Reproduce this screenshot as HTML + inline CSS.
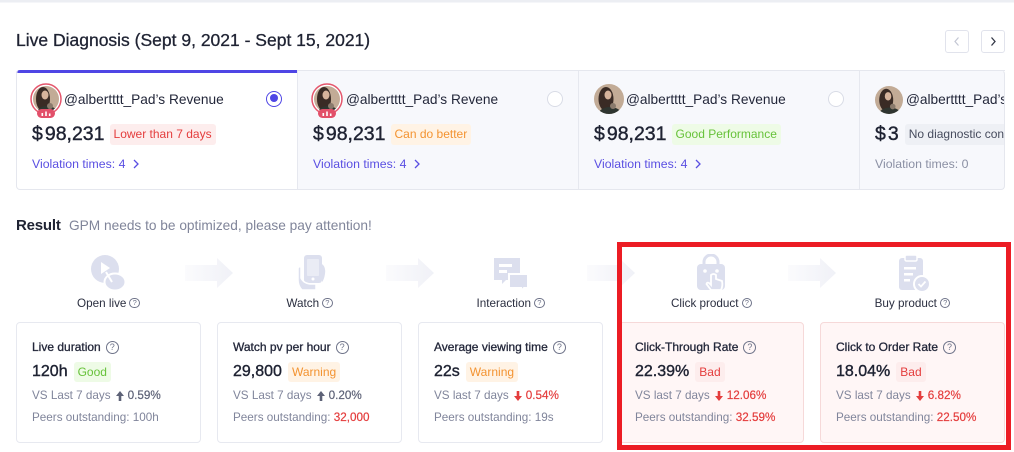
<!DOCTYPE html>
<html><head><meta charset="utf-8">
<style>
*{margin:0;padding:0;box-sizing:border-box}
html,body{width:1014px;height:452px;overflow:hidden;background:#fff}
body{position:relative;font-family:"Liberation Sans",Arial,sans-serif;color:#22263a}
.a{position:absolute;white-space:nowrap}
.med{-webkit-text-stroke:0.3px currentColor}
.nav{width:24px;height:23px;border:1px solid #e1e3ec;border-radius:3px;background:#fff}
.nav svg{position:absolute;left:-1px;top:-1px}
.name{font-size:13.7px;line-height:18px;color:#23273a}
.amt{display:flex;align-items:center;height:21px;font-size:19.5px;color:#1f2333}
.amt b{font-weight:normal;-webkit-text-stroke:0.4px #1f2333}
.tg{display:inline-block;height:21px;line-height:21px;padding:0 4px;border-radius:3px;font-size:12px;margin-left:5px}
.red{background:#fdeded;color:#e43d3d}
.org{background:#fff3e5;color:#f39331}
.grn{background:#eefbe6;color:#67c23a}
.gry{background:#eef0f5;color:#474c5e}
.vio{font-size:12.3px;line-height:16px;color:#5a4fe2;display:flex;align-items:center}
.vio svg{margin-left:8px}
.radio{width:16px;height:16px;border-radius:50%;background:#fff}
.step{font-size:11.7px;line-height:16px;color:#2b2f40;text-align:center;width:185px}
.q{display:inline-block;vertical-align:middle;border:1.1px solid #6e7389;border-radius:50%;text-align:center;color:#6e7389}
.qs{width:10.5px;height:10.5px;font-size:7.5px;line-height:8.5px;margin-left:3px;margin-top:-2px}
.qm{width:13px;height:13px;font-size:9px;line-height:11px;margin-left:5px}
.card{position:absolute;top:322px;width:185px;height:121px;border:1px solid #e7e9f0;border-radius:4px;background:#fff}
.pink{background:#fff6f6;border-color:#f6d9d9}
.card .t{position:absolute;left:15px;top:16px;font-size:12px;line-height:16px;color:#23273a;display:flex;align-items:center}
.card .v{position:absolute;left:15px;top:38px;height:21px;display:flex;align-items:center;font-size:16px;color:#1e2232}
.card .v span.n{-webkit-text-stroke:0.4px #1e2232}
.card .v .tg{height:20px;line-height:20px;margin-left:6px}
.card .s{position:absolute;left:15px;top:65px;font-size:11.7px;line-height:16px;color:#80859b;display:flex;align-items:center}
.card .p{position:absolute;left:15px;top:87px;font-size:11.7px;line-height:16px;color:#80859b}
.up{color:#5d6277;-webkit-text-stroke:0.2px #5d6277}
.dn{color:#e43d3d;-webkit-text-stroke:0.2px #e43d3d}
.s svg{margin:0 4px 0 5px}
</style></head><body>

<div class="a" style="left:0;top:0;width:1014px;height:2px;background:#eceef3"></div>
<div class="a" style="left:0;top:2px;width:1014px;height:1px;background:#f5f6f9"></div>

<div class="a med" style="left:16px;top:28px;line-height:24px;font-size:17.5px;color:#1f2333">Live Diagnosis (Sept 9, 2021 - Sept 15, 2021)</div>

<div class="a nav" style="left:945px;top:30px"><svg width="24" height="23"><polyline points="13.5,7.5 10,11.5 13.5,15.5" fill="none" stroke="#c3c6d3" stroke-width="1.2"/></svg></div>
<div class="a nav" style="left:981px;top:30px"><svg width="24" height="23"><polyline points="10.5,7.5 14,11.5 10.5,15.5" fill="none" stroke="#333746" stroke-width="1.3"/></svg></div>

<!-- Top cards -->
<div class="a" style="left:16px;top:70px;width:989px;height:120px;overflow:hidden;border-radius:4px;background:#f7f8fc">
  <div class="a" style="left:0;top:0;width:281px;height:120px;background:#fff"></div>
  <div class="a" style="left:0;top:0;width:281px;height:3px;background:#4f46e5"></div>
  <div class="a" style="left:281px;top:0;width:1px;height:120px;background:#e6e8ef"></div>
  <div class="a" style="left:562px;top:0;width:1px;height:120px;background:#e6e8ef"></div>
  <div class="a" style="left:843px;top:0;width:1px;height:120px;background:#e6e8ef"></div>

  <!-- card 1 -->
  <svg class="a" style="left:14px;top:13px" width="32" height="36" viewBox="0 0 32 36">
    <defs><clipPath id="av1"><circle cx="16" cy="16" r="13"/></clipPath></defs>
    <circle cx="16" cy="16" r="15" fill="#fff" stroke="#e4566c" stroke-width="1.5"/>
    <g clip-path="url(#av1)">
      <rect width="32" height="32" fill="#c2ab96"/>
      <ellipse cx="13" cy="16" rx="7" ry="12" fill="#3a2b25"/>
      <ellipse cx="15" cy="12" rx="3.5" ry="4.5" fill="#d7b49c"/>
      <ellipse cx="17" cy="31" rx="11" ry="8" fill="#2f3530"/>
      <ellipse cx="20" cy="23" rx="3" ry="3" fill="#8a7a6c"/>
    </g>
    <rect x="7" y="26" width="18" height="9" rx="4.5" fill="#e2506a"/>
    <rect x="11.5" y="30" width="1.6" height="3" fill="#fff"/>
    <rect x="15.2" y="28.5" width="1.6" height="4.5" fill="#fff"/>
    <rect x="18.9" y="30.5" width="1.6" height="2.5" fill="#fff"/>
  </svg>
  <div class="a name" style="left:48px;top:20.5px">@albertttt_Pad’s Revenue</div>
  <div class="a radio" style="left:250px;top:20.5px;border:1.5px solid #4f46e5"><div style="margin:2.5px;width:8px;height:8px;border-radius:50%;background:#4f46e5"></div></div>
  <div class="a amt" style="left:16px;top:54px"><b>$</b><b style="margin-left:2px">98,231</b><span class="tg red">Lower than 7 days</span></div>
  <div class="a vio" style="left:16px;top:86px">Violation times: 4<svg width="6" height="10"><polyline points="1,1 5,5 1,9" fill="none" stroke="#5a4fe2" stroke-width="1.3"/></svg></div>

  <!-- card 2 -->
  <svg class="a" style="left:295px;top:13px" width="32" height="36" viewBox="0 0 32 36">
    <defs><clipPath id="av2"><circle cx="16" cy="16" r="13"/></clipPath></defs>
    <circle cx="16" cy="16" r="15" fill="#fff" stroke="#e4566c" stroke-width="1.5"/>
    <g clip-path="url(#av2)">
      <rect width="32" height="32" fill="#c2ab96"/>
      <ellipse cx="13" cy="16" rx="7" ry="12" fill="#3a2b25"/>
      <ellipse cx="15" cy="12" rx="3.5" ry="4.5" fill="#d7b49c"/>
      <ellipse cx="17" cy="31" rx="11" ry="8" fill="#2f3530"/>
      <ellipse cx="20" cy="23" rx="3" ry="3" fill="#8a7a6c"/>
    </g>
    <rect x="7" y="26" width="18" height="9" rx="4.5" fill="#e2506a"/>
    <rect x="11.5" y="30" width="1.6" height="3" fill="#fff"/>
    <rect x="15.2" y="28.5" width="1.6" height="4.5" fill="#fff"/>
    <rect x="18.9" y="30.5" width="1.6" height="2.5" fill="#fff"/>
  </svg>
  <div class="a name" style="left:330px;top:20.5px">@albertttt_Pad’s Revene</div>
  <div class="a radio" style="left:531px;top:21px;border:1px solid #d9dce6"></div>
  <div class="a amt" style="left:297px;top:54px"><b>$</b><b style="margin-left:2px">98,231</b><span class="tg org">Can do better</span></div>
  <div class="a vio" style="left:297px;top:86px">Violation times: 4<svg width="6" height="10"><polyline points="1,1 5,5 1,9" fill="none" stroke="#5a4fe2" stroke-width="1.3"/></svg></div>

  <!-- card 3 -->
  <svg class="a" style="left:578px;top:14px" width="30" height="30" viewBox="0 0 30 30">
    <defs><clipPath id="av3"><circle cx="15" cy="15" r="15"/></clipPath></defs>
    <g clip-path="url(#av3)">
      <rect width="30" height="30" fill="#c2ab96"/>
      <ellipse cx="12" cy="15" rx="7.5" ry="12" fill="#3a2b25"/>
      <ellipse cx="14" cy="11" rx="3.5" ry="4.5" fill="#d7b49c"/>
      <ellipse cx="16" cy="31" rx="12" ry="8" fill="#2f3530"/>
      <ellipse cx="19" cy="22" rx="3" ry="3" fill="#8a7a6c"/>
    </g>
  </svg>
  <div class="a name" style="left:610px;top:20.5px">@albertttt_Pad’s Revenue</div>
  <div class="a radio" style="left:812px;top:20.5px;border:1px solid #d9dce6"></div>
  <div class="a amt" style="left:578px;top:54px"><b>$</b><b style="margin-left:2px">98,231</b><span class="tg grn">Good Performance</span></div>
  <div class="a vio" style="left:578px;top:86px">Violation times: 4<svg width="6" height="10"><polyline points="1,1 5,5 1,9" fill="none" stroke="#5a4fe2" stroke-width="1.3"/></svg></div>

  <!-- card 4 -->
  <svg class="a" style="left:859px;top:16px" width="28" height="28" viewBox="0 0 30 30">
    <defs><clipPath id="av4"><circle cx="15" cy="15" r="15"/></clipPath></defs>
    <g clip-path="url(#av4)">
      <rect width="30" height="30" fill="#c2ab96"/>
      <ellipse cx="12" cy="15" rx="7.5" ry="12" fill="#3a2b25"/>
      <ellipse cx="14" cy="11" rx="3.5" ry="4.5" fill="#d7b49c"/>
      <ellipse cx="16" cy="31" rx="12" ry="8" fill="#2f3530"/>
      <ellipse cx="19" cy="22" rx="3" ry="3" fill="#8a7a6c"/>
    </g>
  </svg>
  <div class="a name" style="left:890px;top:20.5px">@albertttt_Pad’s Revenue</div>
  <div class="a amt" style="left:859px;top:54px"><b>$</b><b style="margin-left:2px">3</b><span class="tg gry" style="margin-left:6px">No diagnostic conclusion</span></div>
  <div class="a vio" style="left:859px;top:86px;color:#8b90a4">Violation times: 0</div>
</div>
<div class="a" style="left:16px;top:70px;width:989px;height:120px;border:1px solid #e5e7ee;border-top-color:transparent;border-radius:4px"></div>
<div class="a" style="left:297px;top:70px;width:708px;height:1px;background:#e5e7ee"></div>

<!-- Result -->
<div class="a" style="left:16px;top:216px;line-height:20px;font-size:15px;font-weight:bold;color:#1f2333;letter-spacing:-0.2px">Result</div>
<div class="a" style="left:69px;top:217px;line-height:18px;font-size:13.7px;color:#80859a">GPM needs to be optimized, please pay attention!</div>

<!-- arrows -->
<svg class="a" style="left:0;top:250px" width="1014" height="45">
  <defs>
    <linearGradient id="ag" x1="0" x2="1" y1="0" y2="0">
      <stop offset="0" stop-color="#fbfbfd"/><stop offset="1" stop-color="#f0f1f7"/>
    </linearGradient>
  </defs>
  <g fill="url(#ag)">
    <path transform="translate(185,0)" d="M0 15 H32 V8 L48 23 L32 38 V31 H0 Z"/>
    <path transform="translate(386,0)" d="M0 15 H32 V8 L48 23 L32 38 V31 H0 Z"/>
    <path transform="translate(587,0)" d="M0 15 H32 V8 L48 23 L32 38 V31 H0 Z"/>
    <path transform="translate(788,0)" d="M0 15 H32 V8 L48 23 L32 38 V31 H0 Z"/>
  </g>
</svg>

<!-- step icons -->
<svg class="a" style="left:90px;top:254px" width="38" height="38" viewBox="0 0 38 38">
  <circle cx="15" cy="15" r="14" fill="#dcdfee"/>
  <path d="M11 8 L11 20 L20 14 Z" fill="#fff"/>
  <ellipse cx="25" cy="28" rx="10.5" ry="8.5" fill="#dcdfee" stroke="#fff" stroke-width="2"/>
  <path d="M16 18 L22 28" stroke="#fff" stroke-width="2"/>
</svg>
<svg class="a" style="left:295px;top:254px" width="32" height="38" viewBox="0 0 32 38">
  <rect x="9" y="1" width="18" height="28" rx="3" fill="#dcdfee"/>
  <rect x="12" y="5" width="12" height="17" rx="1" fill="#eaecf5"/>
  <circle cx="18" cy="25" r="1.5" fill="#fff"/>
  <path d="M3 15 Q3 12 6 13 L6 24 Q9 30 17 30 L21 30 L21 36 L7 36 Q3 32 3 26 Z" fill="#dcdfee" stroke="#fff" stroke-width="1.5"/>
  <path d="M27 10 Q31 13 30 20 Q29 26 27 28 Z" fill="#dcdfee"/>
</svg>
<svg class="a" style="left:492px;top:256px" width="38" height="38" viewBox="0 0 38 38">
  <path d="M2 2 H28 V24 H14 L10 28 V24 H2 Z" fill="#dcdfee"/>
  <rect x="7" y="8" width="13" height="3" fill="#fff"/>
  <rect x="7" y="14" width="8" height="3" fill="#fff"/>
  <path d="M17 18 H36 V32 H32 L29 35 V32 H17 Z" fill="#dcdfee" stroke="#fff" stroke-width="2"/>
</svg>
<svg class="a" style="left:694px;top:254px" width="38" height="38" viewBox="0 0 38 38">
  <path d="M10 11 V8 A7 7 0 0 1 24 8 V11" fill="none" stroke="#dcdfee" stroke-width="3"/>
  <rect x="3" y="10" width="28" height="26" rx="4" fill="#dcdfee"/>
  <circle cx="11" cy="17" r="1.8" fill="#fff"/>
  <circle cx="23" cy="17" r="1.8" fill="#fff"/>
  <path d="M17 21 V31 L15 29 Q13 28 12.5 30 L17 36 H27 Q29 32 28 27 L22 25 V21 Q19.5 19 17 21 Z" fill="#dcdfee" stroke="#fff" stroke-width="1.8"/>
</svg>
<svg class="a" style="left:897px;top:254px" width="38" height="40" viewBox="0 0 38 40">
  <rect x="2" y="4" width="24" height="32" rx="3" fill="#dcdfee"/>
  <rect x="8" y="1" width="12" height="6" rx="1.5" fill="#dcdfee" stroke="#fff" stroke-width="1.5"/>
  <rect x="7" y="13" width="12" height="2.5" fill="#fff"/>
  <rect x="7" y="19" width="9" height="2.5" fill="#fff"/>
  <rect x="7" y="25" width="6" height="2.5" fill="#fff"/>
  <circle cx="25" cy="30" r="8" fill="#dcdfee" stroke="#fff" stroke-width="2"/>
  <polyline points="21.5,30 24,32.5 28.5,27.5" fill="none" stroke="#fff" stroke-width="1.8"/>
</svg>

<!-- step labels -->
<div class="a step" style="left:16px;top:296px">Open live<span class="q qs">?</span></div>
<div class="a step" style="left:217px;top:296px">Watch<span class="q qs">?</span></div>
<div class="a step" style="left:418px;top:296px">Interaction<span class="q qs">?</span></div>
<div class="a step" style="left:619px;top:296px">Click product<span class="q qs">?</span></div>
<div class="a step" style="left:820px;top:296px">Buy product<span class="q qs">?</span></div>

<!-- metric cards -->
<div class="card" style="left:16px">
  <div class="t"><span class="med">Live duration</span><span class="q qm">?</span></div>
  <div class="v"><span class="n">120h</span><span class="tg grn">Good</span></div>
  <div class="s">VS Last 7 days<svg width="8" height="10"><path d="M4 0 L8 5 H5.3 V10 H2.7 V5 H0 Z" fill="#5d6277"/></svg><span class="up">0.59%</span></div>
  <div class="p">Peers outstanding: 100h</div>
</div>
<div class="card" style="left:217px">
  <div class="t"><span class="med">Watch pv per hour</span><span class="q qm">?</span></div>
  <div class="v"><span class="n">29,800</span><span class="tg org">Warning</span></div>
  <div class="s">VS Last 7 days<svg width="8" height="10"><path d="M4 0 L8 5 H5.3 V10 H2.7 V5 H0 Z" fill="#5d6277"/></svg><span class="up">0.20%</span></div>
  <div class="p">Peers outstanding: <span class="dn">32,000</span></div>
</div>
<div class="card" style="left:418px">
  <div class="t"><span class="med">Average viewing time</span><span class="q qm">?</span></div>
  <div class="v"><span class="n">22s</span><span class="tg org">Warning</span></div>
  <div class="s">VS last 7 days<svg width="8" height="10"><path d="M4 10 L8 5 H5.3 V0 H2.7 V5 H0 Z" fill="#e43d3d"/></svg><span class="dn">0.54%</span></div>
  <div class="p">Peers outstanding: 19s</div>
</div>
<div class="card pink" style="left:619px">
  <div class="t"><span class="med">Click-Through Rate</span><span class="q qm">?</span></div>
  <div class="v"><span class="n">22.39%</span><span class="tg red">Bad</span></div>
  <div class="s">VS last 7 days<svg width="8" height="10"><path d="M4 10 L8 5 H5.3 V0 H2.7 V5 H0 Z" fill="#e43d3d"/></svg><span class="dn">12.06%</span></div>
  <div class="p">Peers outstanding: <span class="dn">32.59%</span></div>
</div>
<div class="card pink" style="left:820px">
  <div class="t"><span class="med">Click to Order Rate</span><span class="q qm">?</span></div>
  <div class="v"><span class="n">18.04%</span><span class="tg red">Bad</span></div>
  <div class="s">VS last 7 days<svg width="8" height="10"><path d="M4 10 L8 5 H5.3 V0 H2.7 V5 H0 Z" fill="#e43d3d"/></svg><span class="dn">6.82%</span></div>
  <div class="p">Peers outstanding: <span class="dn">22.50%</span></div>
</div>

<!-- red highlight -->
<div class="a" style="left:617px;top:242px;width:394px;height:208px;border:5px solid #ec1c24"></div>

</body></html>
